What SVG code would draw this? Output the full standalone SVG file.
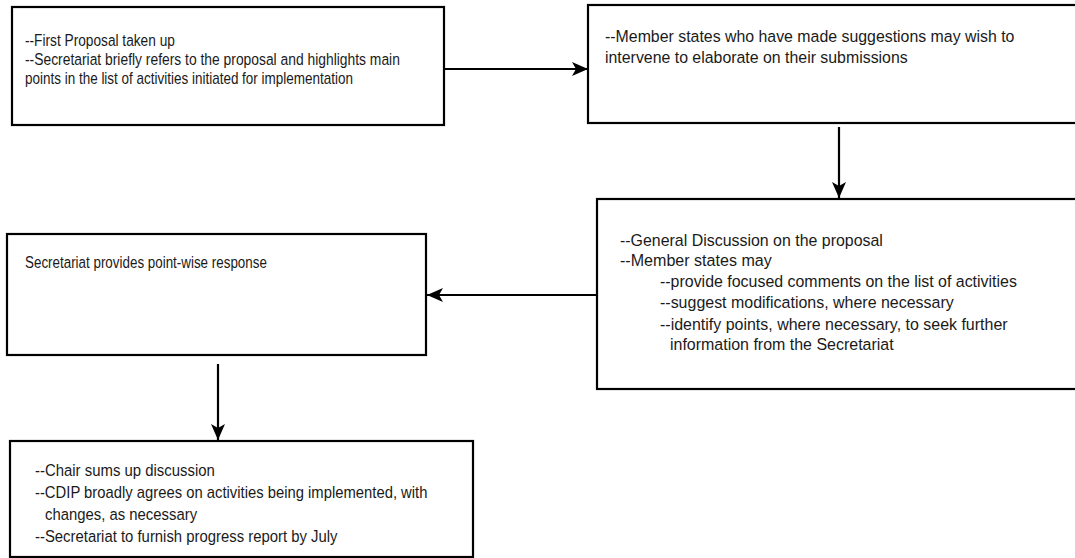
<svg xmlns="http://www.w3.org/2000/svg" width="1075" height="558" viewBox="0 0 1075 558">
<defs>
<marker id="ah" markerUnits="userSpaceOnUse" markerWidth="16" markerHeight="14" refX="16" refY="7" orient="auto">
<path d="M0,0 L16,7 L0,14 L4,7 z" fill="#000"/>
</marker>
<style>
.box{fill:#fff;stroke:#000;stroke-width:2.2}
.t{font-family:"Liberation Sans",Arial,sans-serif;font-size:17px;fill:#1a1a1a}
.c{stroke:#000;stroke-width:2.2;fill:none}
</style>
</defs>
<rect width="1075" height="558" fill="#fff"/>
<g id="n1">
<rect class="box" x="12" y="7" width="432" height="118"/>
<text class="t" transform="translate(25,46) scale(0.806,1)">--First Proposal taken up</text>
<text class="t" transform="translate(25,65) scale(0.815,1)">--Secretariat briefly refers to the proposal and highlights main</text>
<text class="t" transform="translate(25,84) scale(0.793,1)">points in the list of activities initiated for implementation</text>
</g>
<g id="n2">
<rect class="box" x="588" y="5" width="500" height="118"/>
<text class="t" transform="translate(605,42) scale(0.935,1)">--Member states who have made suggestions may wish to</text>
<text class="t" transform="translate(605,63) scale(0.935,1)">intervene to elaborate on their submissions</text>
</g>
<g id="n3">
<rect class="box" x="597" y="199" width="490" height="190"/>
<text class="t" transform="translate(620,246) scale(0.937,1)">--General Discussion on the proposal</text>
<text class="t" transform="translate(620,266) scale(0.946,1)">--Member states may</text>
<text class="t" transform="translate(660,287) scale(0.938,1)">--provide focused comments on the list of activities</text>
<text class="t" transform="translate(660,308) scale(0.94,1)">--suggest modifications, where necessary</text>
<text class="t" transform="translate(660,330) scale(0.94,1)">--identify points, where necessary, to seek further</text>
<text class="t" transform="translate(670,350) scale(0.94,1)">information from the Secretariat</text>
</g>
<g id="n4">
<rect class="box" x="7" y="234" width="419" height="121"/>
<text class="t" transform="translate(25,268) scale(0.788,1)">Secretariat provides point-wise response</text>
</g>
<g id="n5">
<rect class="box" x="10" y="441" width="463" height="116"/>
<text class="t" transform="translate(35,476) scale(0.878,1)">--Chair sums up discussion</text>
<text class="t" transform="translate(35,498) scale(0.872,1)">--CDIP broadly agrees on activities being implemented, with</text>
<text class="t" transform="translate(45,520) scale(0.875,1)">changes, as necessary</text>
<text class="t" transform="translate(35,542) scale(0.875,1)">--Secretariat to furnish progress report by July</text>
</g>
<g id="connectors">
<line class="c" x1="444" y1="69" x2="588" y2="69" marker-end="url(#ah)"/>
<line class="c" x1="839" y1="127" x2="839" y2="198" marker-end="url(#ah)"/>
<line class="c" x1="597" y1="295" x2="427" y2="295" marker-end="url(#ah)"/>
<line class="c" x1="218" y1="364" x2="218" y2="440" marker-end="url(#ah)"/>
</g>
</svg>
